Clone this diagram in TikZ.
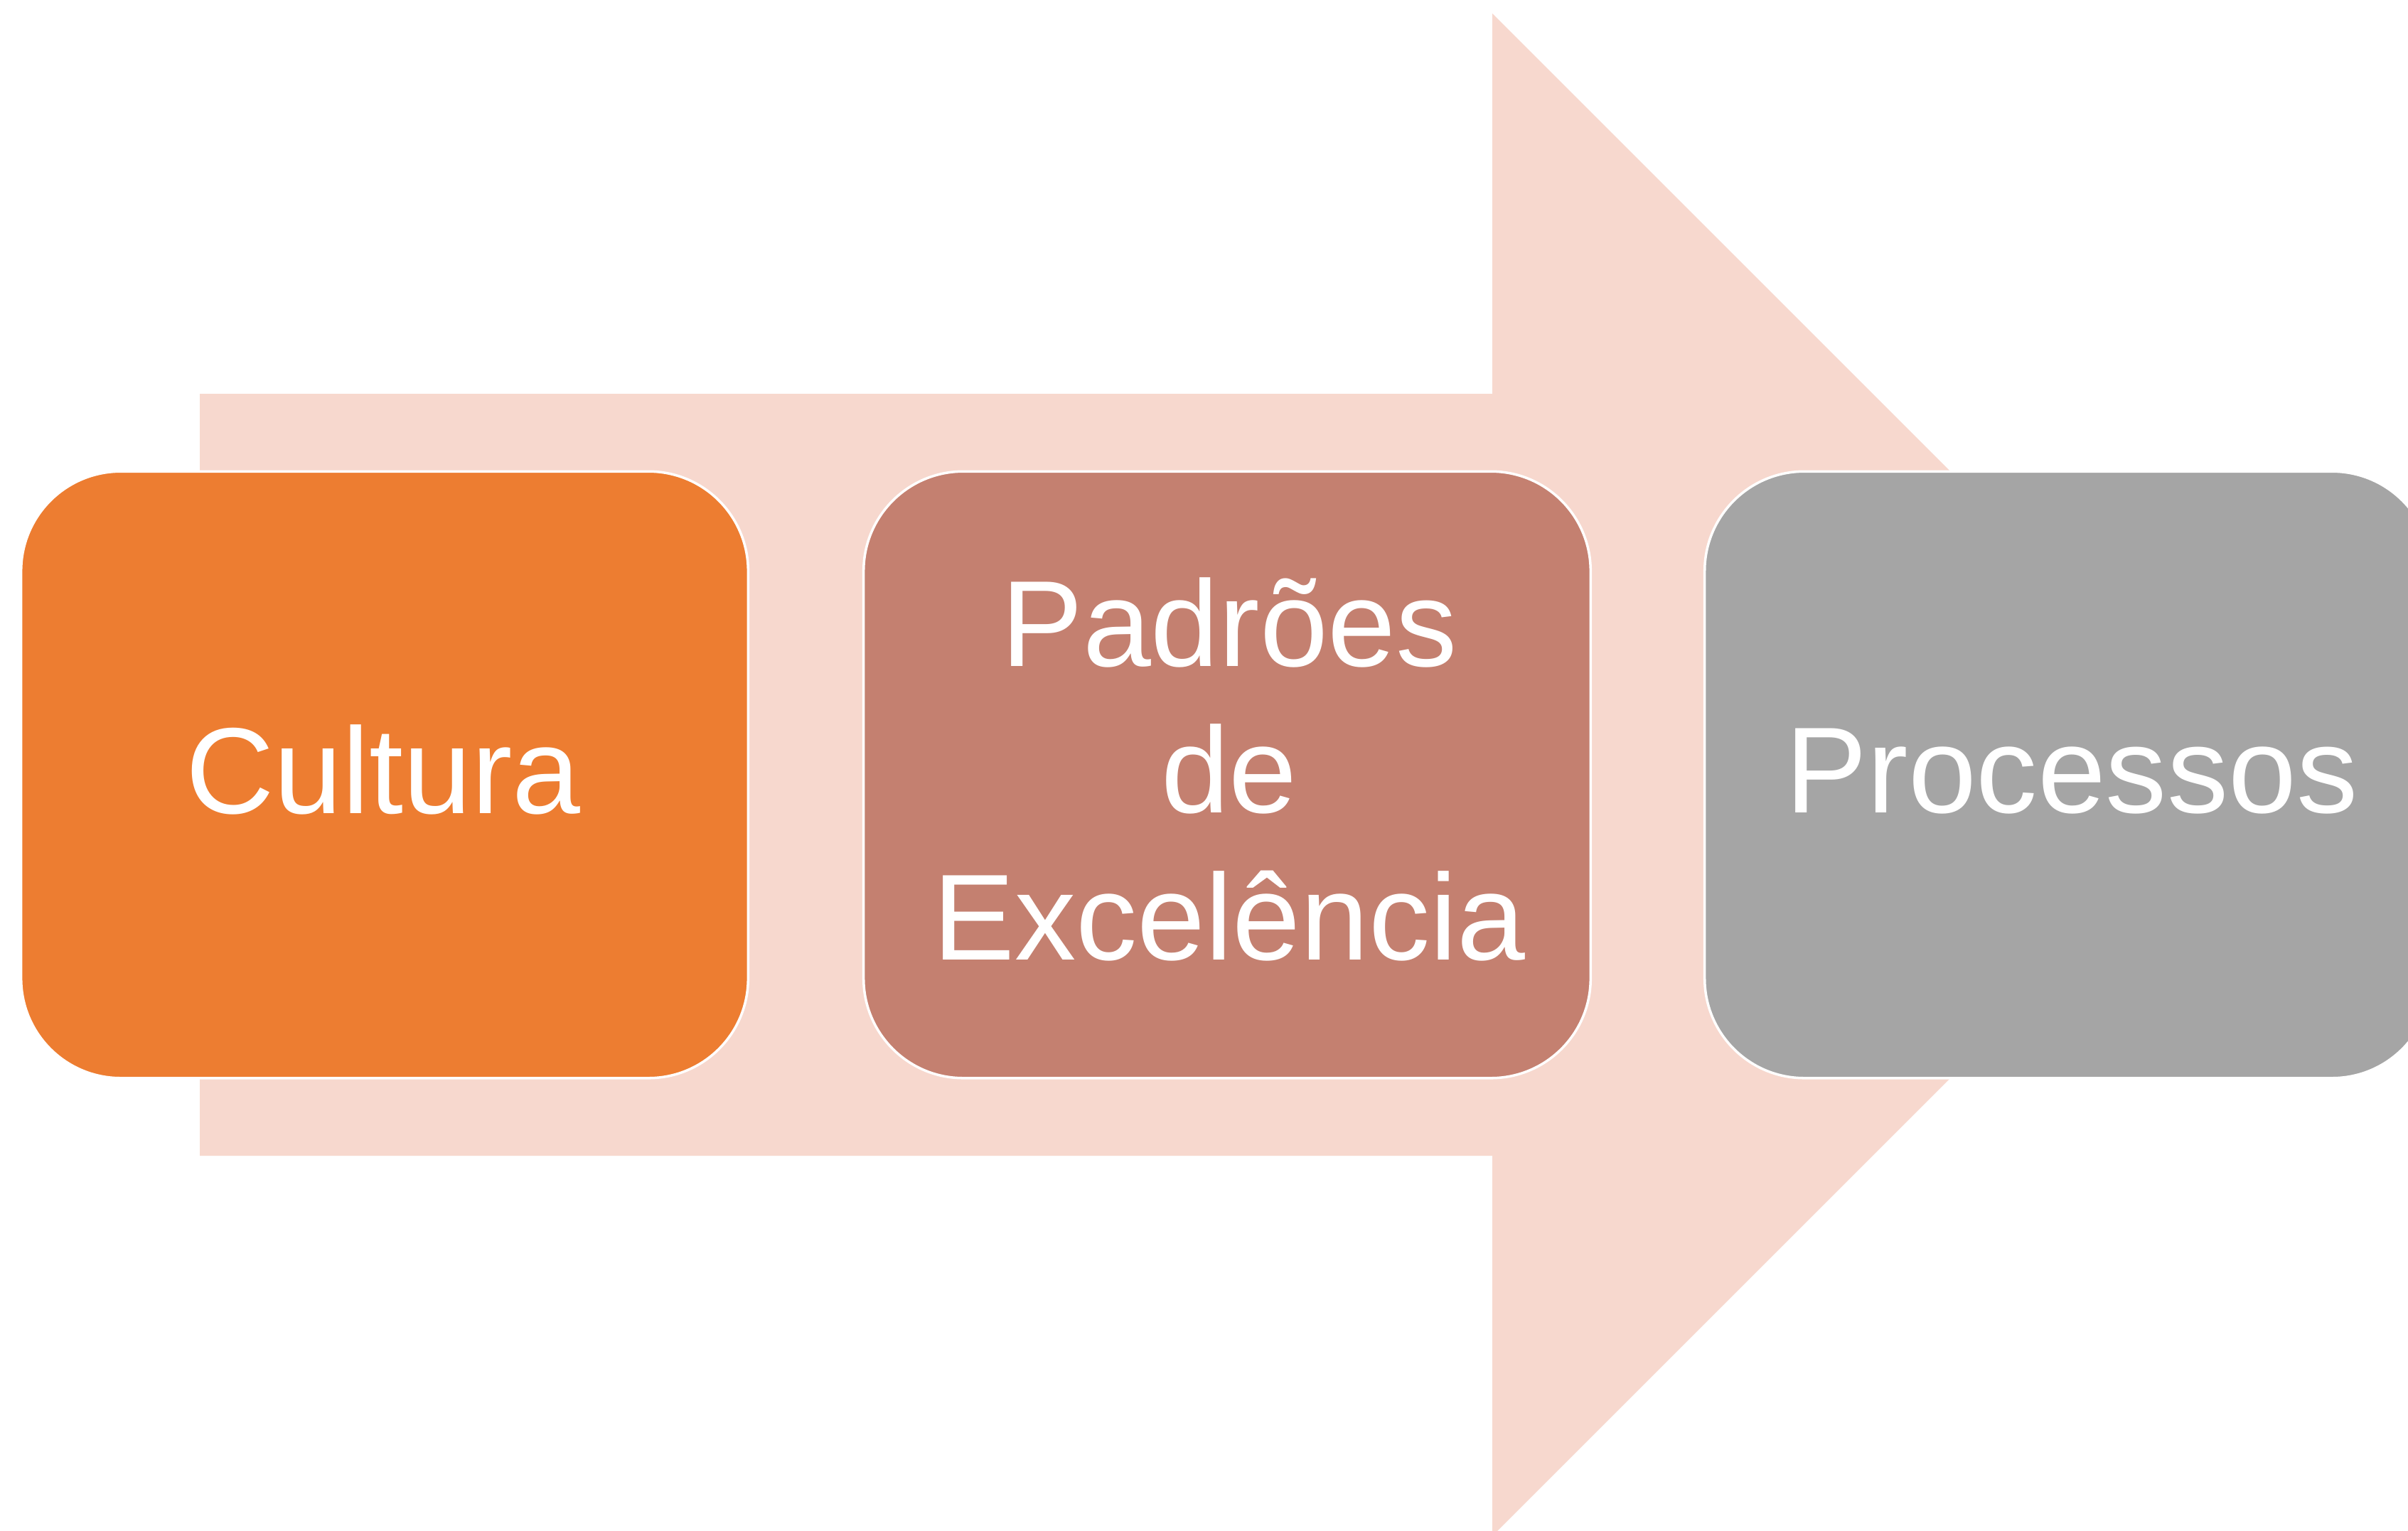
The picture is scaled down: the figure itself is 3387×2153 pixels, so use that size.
\documentclass[tikz,border=0pt]{standalone}
\usepackage{fontspec}
\setmainfont{Liberation Sans}
\definecolor{arrowfill}{HTML}{F7D8CE}
\definecolor{boxorange}{HTML}{ED7D31}
\definecolor{boxrose}{HTML}{C48070}
\definecolor{boxgray}{HTML}{A5A5A5}
\tikzset{
  stagebox/.style={draw=white, line width=1pt, rounded corners=1.4cm,
    minimum width=10.22cm, minimum height=8.53cm, inner sep=0pt},
  stagetext/.style={text=white, font=\fontsize{49}{58.6}\selectfont,
    align=center, inner sep=0pt}
}
\begin{document}
\begin{tikzpicture}[x=0.01cm, y=-0.01cm]
\useasboundingbox (0,0) rectangle (3387,2153);
\clip (0,0) rectangle (3387,2153);
\fill[white] (0,0) rectangle (3387,2153);
% big arrow
\coordinate (a1) at (281,554);
\coordinate (a2) at (2099,554);
\coordinate (a3) at (2099,19);
\coordinate (tip) at (3170,1090);
\coordinate (a5) at (2099,2161);
\coordinate (a6) at (2099,1626);
\coordinate (a7) at (281,1626);
\fill[arrowfill] (a1) -- (a2) -- (a3) -- (tip) -- (a5) -- (a6) -- (a7) -- cycle;
% boxes
\node[stagebox, fill=boxorange] (b1) at (541,1090) {};
\node[stagebox, fill=boxrose] (b2) at (1726,1090) {};
\node[stagebox, fill=boxgray] (b3) at (2909,1090) {};
% texts
\node[stagetext, anchor=base] (t1) at (539,1144) {Cultura};
\node[stagetext, anchor=base] (t2a) at (1729,937) {Padrões};
\node[stagetext, anchor=base] (t2b) at (1729,1143) {de};
\node[stagetext, anchor=base] (t2c) at (1729,1350) {Excelência};
\node[stagetext, anchor=base] (t3) at (2914,1143) {Processos};
\end{tikzpicture}
\end{document}
